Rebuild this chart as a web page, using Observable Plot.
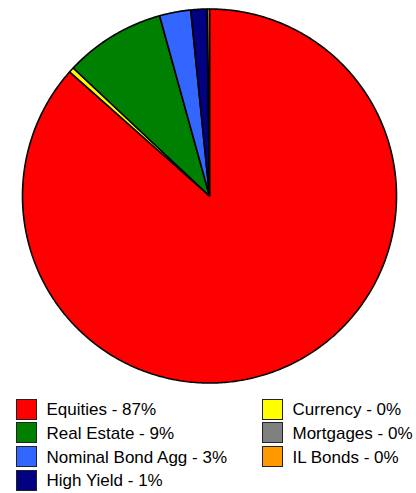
<!DOCTYPE html>
<html><head><meta charset="utf-8">
<script src="https://cdn.jsdelivr.net/npm/d3@7"></script>
<script src="https://cdn.jsdelivr.net/npm/@observablehq/plot@0.6"></script>
<style>
body{margin:0;background:#fff;font-family:"Liberation Sans",Arial,sans-serif;}
#chart{position:relative;width:416px;height:493px;overflow:hidden;}
#chart svg{position:absolute;left:0;top:0;}
.sw{position:absolute;width:21px;height:21px;box-sizing:border-box;border:1.5px solid #222;}
.lab{position:absolute;font-size:17px;line-height:21px;color:#000;white-space:nowrap;}
</style></head><body><div id="chart"></div>
<script>
// pie order, clockwise from 12 o'clock
const sliceNames = ["Equities","Currency","Real Estate","Nominal Bond Agg","High Yield","Mortgages","IL Bonds"];
const sliceValues = [86.55, 0.45, 8.7, 2.7, 1.4, 0, 0.2];
const sliceColors = ["#ff0000","#ffff00","#008000","#3366ff","#000080","#808080","#ff9900"];
// legend order (column-major)
const legendNames = ["Equities","Real Estate","Nominal Bond Agg","High Yield","Currency","Mortgages","IL Bonds"];

const total = d3.sum(sliceValues);
const points = [];
let acc = 0;
sliceNames.forEach((name, i) => {
  const v = sliceValues[i];
  if (v <= 0) { return; }
  const a0 = acc / total * 2 * Math.PI;
  acc += v;
  const a1 = acc / total * 2 * Math.PI;
  const n = Math.max(2, Math.ceil((a1 - a0) / 0.01));
  points.push({name, x: 0, y: 0});
  for (let k = 0; k <= n; k++) {
    const a = a0 + (a1 - a0) * k / n;
    points.push({name, x: Math.sin(a), y: Math.cos(a)});
  }
});

const plot = Plot.plot({
  width: 416, height: 390,
  marginLeft: 22, marginRight: 20, marginTop: 8.5, marginBottom: 7.5,
  x: {domain: [-1, 1], axis: null},
  y: {domain: [-1, 1], axis: null},
  color: {domain: sliceNames, range: sliceColors},
  marks: [
    Plot.line(points, {x: "x", y: "y", z: "name", fill: "name", stroke: "#000", strokeWidth: 1.6, curve: "linear-closed", strokeLinejoin: "miter"})
  ]
});
const chart = document.getElementById("chart");
chart.appendChild(plot);

const colorOf = Object.fromEntries(sliceNames.map((n, i) => [n, sliceColors[i]]));
const valueOf = Object.fromEntries(sliceNames.map((n, i) => [n, sliceValues[i]]));
legendNames.forEach((name, i) => {
  const col = Math.floor(i / 4), row = i % 4;
  const left = col === 0 ? 16 : 262;
  const top = 398.5 + row * 23.8;
  const sw = document.createElement("div");
  sw.className = "sw";
  sw.style.left = left + "px"; sw.style.top = top + "px";
  sw.style.background = colorOf[name];
  chart.appendChild(sw);
  const lab = document.createElement("div");
  lab.className = "lab";
  lab.style.left = (left + 30.5) + "px"; lab.style.top = (top + 0.5) + "px";
  lab.textContent = name + " - " + Math.round(valueOf[name]) + "%";
  chart.appendChild(lab);
});
</script>
</body></html>
